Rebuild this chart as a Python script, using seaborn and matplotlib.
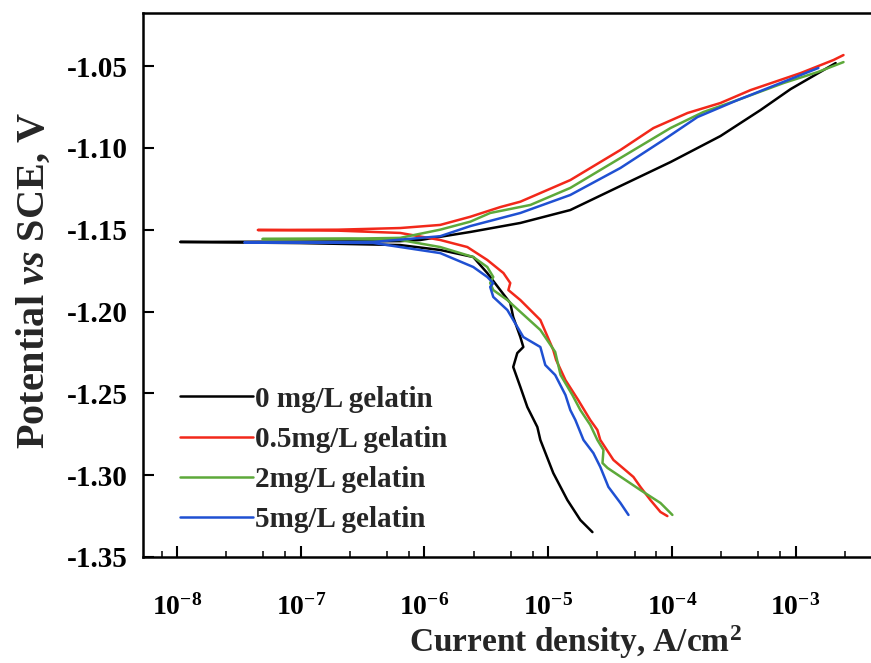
import matplotlib
matplotlib.use("Agg")
import matplotlib.pyplot as plt
import matplotlib.ticker as mticker
import numpy as np
import pandas as pd
import seaborn as sns

# Potentiodynamic polarization curves: current density (A/cm^2) vs potential (V vs SCE),
# each traced from the cathodic end, through the corrosion potential, to the anodic end.
labels = ["0 mg/L gelatin", "0.5mg/L gelatin", "2mg/L gelatin", "5mg/L gelatin"]
colors = ["#000000", "#f2281a", "#5da93a", "#1f50d2"]

i_0 = [2.28e-5, 1.82e-5, 1.43e-5, 1.10e-5, 8.65e-6, 8.18e-6, 6.79e-6, 5.96e-6, 5.22e-6,
       5.63e-6, 6.30e-6, 5.96e-6, 5.22e-6, 4.94e-6, 4.10e-6, 3.22e-6, 2.48e-6, 1.34e-6,
       6.37e-7, 9.9e-8, 1.06e-8,
       9.9e-8, 6.37e-7, 9.25e-7, 2.35e-6, 5.96e-6, 1.51e-5, 3.84e-5, 9.75e-5, 2.47e-4,
       5.21e-4, 9.12e-4, 2.11e-3]
e_0 = [-1.3348, -1.3274, -1.3152, -1.2987, -1.2785, -1.2706, -1.2584, -1.2461, -1.2339,
       -1.2254, -1.2217, -1.2156, -1.2034, -1.1948, -1.1869, -1.1765, -1.1667, -1.1624,
       -1.1594, -1.1582, -1.1575,
       -1.1573, -1.1570, -1.1563, -1.1514, -1.1459, -1.1380, -1.1233, -1.1087, -1.0928,
       -1.0769, -1.0641, -1.0482]

i_05 = [9.20e-5, 8.09e-5, 6.71e-5, 5.57e-5, 4.89e-5, 3.37e-5, 2.64e-5, 2.50e-5, 2.19e-5,
        1.75e-5, 1.38e-5, 1.16e-5, 1.10e-5, 8.65e-6, 5.96e-6, 4.77e-6, 4.94e-6, 4.35e-6,
        3.22e-6, 2.22e-6, 1.34e-6, 6.37e-7, 2.0e-7, 4.5e-8,
        2.0e-7, 6.37e-7, 1.34e-6, 2.35e-6, 4.10e-6, 5.96e-6, 1.51e-5, 3.84e-5, 7.10e-5,
        1.34e-4, 2.47e-4, 4.33e-4, 1.10e-3, 2.03e-3, 2.44e-3]
e_05 = [-1.3250, -1.3225, -1.3152, -1.3072, -1.3011, -1.2907, -1.2785, -1.2724, -1.2663,
        -1.2541, -1.2419, -1.2296, -1.2235, -1.2052, -1.1930, -1.1869, -1.1826, -1.1765,
        -1.1685, -1.1606, -1.1563, -1.1520, -1.1506, -1.1502,
        -1.1500, -1.1490, -1.1471, -1.1421, -1.1362, -1.1329, -1.1197, -1.1013, -1.0879,
        -1.0787, -1.0726, -1.0647, -1.0543, -1.0463, -1.0433]

i_2 = [1.01e-4, 8.09e-5, 5.57e-5, 3.02e-5, 2.75e-5, 2.80e-5, 2.50e-5, 2.19e-5, 1.82e-5,
       1.57e-5, 1.26e-5, 1.14e-5, 8.65e-6, 4.68e-6, 3.60e-6, 3.40e-6, 3.60e-6, 3.22e-6,
       2.48e-6, 1.34e-6, 6.37e-7, 2.5e-7, 4.9e-8,
       2.5e-7, 6.37e-7, 1.34e-6, 2.35e-6, 3.40e-6, 7.18e-6, 1.51e-5, 3.84e-5, 9.75e-5,
       1.80e-4, 3.4e-4, 8.0e-4, 1.51e-3, 2.44e-3]
e_2 = [-1.3243, -1.3170, -1.3091, -1.2956, -1.2926, -1.2846, -1.2785, -1.2693, -1.2602,
       -1.2510, -1.2388, -1.2247, -1.2113, -1.1930, -1.1869, -1.1826, -1.1789, -1.1728,
       -1.1667, -1.1606, -1.1563, -1.1557, -1.1557,
       -1.1555, -1.1550, -1.1500, -1.1451, -1.1398, -1.1349, -1.1245, -1.1062, -1.0879,
       -1.0781, -1.0708, -1.0604, -1.0537, -1.0476]

i_5 = [4.46e-5, 3.84e-5, 3.07e-5, 2.64e-5, 2.32e-5, 1.93e-5, 1.66e-5, 1.51e-5, 1.38e-5,
       1.14e-5, 9.48e-6, 8.65e-6, 6.30e-6, 4.68e-6, 3.60e-6, 3.40e-6, 3.60e-6, 3.22e-6,
       2.48e-6, 1.34e-6, 3.85e-7, 3.5e-8,
       3.85e-7, 1.34e-6, 2.35e-6, 5.96e-6, 1.51e-5, 3.84e-5, 8.55e-5, 1.61e-4, 3.40e-4,
       4.33e-4, 1.10e-3, 1.53e-3]
e_5 = [-1.3243, -1.3170, -1.3072, -1.2950, -1.2865, -1.2785, -1.2663, -1.2602, -1.2510,
       -1.2388, -1.2327, -1.2217, -1.2156, -1.1991, -1.1911, -1.1850, -1.1826, -1.1789,
       -1.1728, -1.1643, -1.1581, -1.1578,
       -1.1575, -1.1540, -1.1478, -1.1398, -1.1288, -1.1123, -1.0952, -1.0812, -1.0708,
       -1.0677, -1.0555, -1.0512]

currents = [i_0, i_05, i_2, i_5]
potentials = [e_0, e_05, e_2, e_5]

x_major = [1e-8, 1e-7, 1e-6, 1e-5, 1e-4, 1e-3]
x_major_labels = [r"$\mathrm{10^{-8}}$", r"$\mathrm{10^{-7}}$", r"$\mathrm{10^{-6}}$",
                  r"$\mathrm{10^{-5}}$", r"$\mathrm{10^{-4}}$", r"$\mathrm{10^{-3}}$"]
y_major = [-1.35, -1.30, -1.25, -1.20, -1.15, -1.10, -1.05]
y_major_labels = ["-1.35", "-1.30", "-1.25", "-1.20", "-1.15", "-1.10", "-1.05"]

sns.set_theme(style="ticks")
plt.rcParams["font.family"] = ["Liberation Serif", "DejaVu Serif"]
plt.rcParams["font.weight"] = "bold"
plt.rcParams["mathtext.fontset"] = "custom"
plt.rcParams["mathtext.rm"] = "Liberation Serif:bold"
plt.rcParams["mathtext.bf"] = "Liberation Serif:bold"
plt.rcParams["mathtext.it"] = "Liberation Serif:bold:italic"
plt.rcParams["mathtext.default"] = "rm"

fig = plt.figure(figsize=(8.71, 6.63), dpi=100)
ax = fig.add_axes([0.1642, 0.1599, 0.856, 0.8205])

frames = []
for lab, cur, pot in zip(labels, currents, potentials):
    frames.append(pd.DataFrame({"current": cur, "potential": pot, "sample": lab,
                                "order": np.arange(len(cur))}))
df = pd.concat(frames, ignore_index=True)

for lab, col in zip(labels, colors):
    sub = df[df["sample"] == lab]
    sns.lineplot(data=sub, x="current", y="potential", sort=False, estimator=None,
                 color=col, linewidth=1.8, label=lab, ax=ax)

ax.set_xscale("log")
ax.set_xlim(5.31e-9, 5.65e-3)
ax.set_ylim(-1.35, -1.0176)

ax.xaxis.set_major_locator(mticker.FixedLocator(x_major))
ax.xaxis.set_major_formatter(mticker.FixedFormatter(x_major_labels))
ax.xaxis.set_minor_locator(mticker.LogLocator(base=10, subs=[2.5, 5.0, 7.5], numticks=20))
ax.xaxis.set_minor_formatter(mticker.NullFormatter())
ax.yaxis.set_major_locator(mticker.FixedLocator(y_major))
ax.yaxis.set_major_formatter(mticker.FixedFormatter(y_major_labels))

ax.tick_params(axis="both", which="major", direction="in", length=8, width=1.5,
               colors="black")
ax.tick_params(axis="y", which="major", labelsize=21, pad=11)
ax.tick_params(axis="x", which="major", labelsize=20, pad=27)
ax.tick_params(axis="x", which="minor", direction="in", length=4.5, width=1.3)
ax.tick_params(top=False, right=False, which="both")
for lbl in ax.get_xticklabels() + ax.get_yticklabels():
    lbl.set_fontweight("bold")

for side in ["left", "bottom", "top", "right"]:
    ax.spines[side].set_linewidth(1.8)
    ax.spines[side].set_color("black")
    ax.spines[side].set_visible(True)

ax.set_xlabel(r"Current density, A/cm$^{2}$", fontsize=24, fontweight="bold")
ax.xaxis.set_label_coords(0.58, -0.123)
ax.set_ylabel(r"Potential $\mathit{vs}$ SCE, V", fontsize=29, fontweight="bold")
ax.yaxis.set_label_coords(-0.121, 0.509)

leg = ax.legend(loc="upper left", bbox_to_anchor=(0.0497, 0.315), frameon=False,
                fontsize=21, handlelength=2.5, handletextpad=0.07, labelspacing=0.45,
                borderpad=0, borderaxespad=0)
for t in leg.get_texts():
    t.set_fontweight("bold")
for h in leg.get_lines():
    h.set_linewidth(1.8)

ax.grid(False)
fig.savefig("out.png", dpi=100)
